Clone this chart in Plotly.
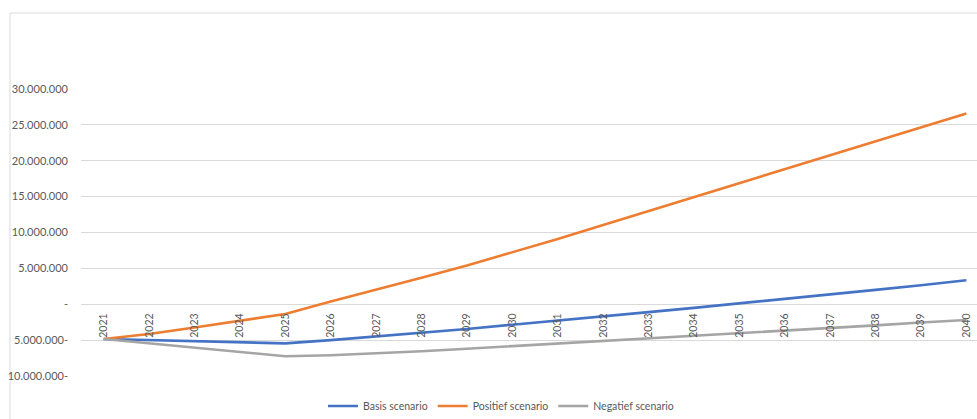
import plotly.graph_objects as go

years = ["2021", "2022", "2023", "2024", "2025", "2026", "2027", "2028", "2029", "2030",
         "2031", "2032", "2033", "2034", "2035", "2036", "2037", "2038", "2039", "2040"]

basis = [-4850000, -5000000, -5150000, -5300000, -5450000, -5000000, -4500000, -4000000,
         -3450000, -2850000, -2300000, -1700000, -1100000, -500000, 100000, 700000,
         1350000, 2000000, 2650000, 3350000]
positief = [-4850000, -4150000, -3250000, -2300000, -1350000, 400000, 2000000, 3700000,
            5400000, 7200000, 9100000, 11050000, 13000000, 14900000, 16850000, 18800000,
            20750000, 22700000, 24650000, 26600000]
negatief = [-4850000, -5450000, -6050000, -6650000, -7250000, -7100000, -6850000, -6550000,
            -6200000, -5850000, -5500000, -5150000, -4800000, -4400000, -4050000, -3700000,
            -3300000, -2950000, -2550000, -2200000]

series_names = ["Basis scenario", "Positief scenario", "Negatief scenario"]
series_colors = ["#4472C4", "#ED7D31", "#A5A5A5"]

y_tickvals = [-10000000, -5000000, 0, 5000000, 10000000, 15000000, 20000000, 25000000, 30000000]
y_ticktext = ["10.000.000-", "5.000.000-", "-", "5.000.000", "10.000.000", "15.000.000",
              "20.000.000", "25.000.000", "30.000.000"]

W, H = 977, 419
ML, MR, MT, MB = 81, 0, 89, 43
FONT = "Lato, 'Open Sans', sans-serif"
TXT = "#595959"

fig = go.Figure()
for name, vals, col in zip(series_names, [basis, positief, negatief], series_colors):
    fig.add_trace(go.Scatter(x=years, y=vals, name=name, mode="lines",
                             line=dict(color=col, width=2.6)))

pw = W - ML - MR
ph = H - MT - MB
def px_x(p):
    return (p - ML) / pw
def px_y(p):
    return (H - MB - p) / ph

# outer chart frame
fig.add_shape(type="rect", xref="paper", yref="paper",
              x0=px_x(10), x1=px_x(990), y0=px_y(440), y1=px_y(13),
              line=dict(color="#D9D9D9", width=1), fillcolor="rgba(0,0,0,0)", layer="below")

fig.update_layout(
    width=W, height=H,
    margin=dict(l=ML, r=MR, t=MT, b=MB, autoexpand=False),
    paper_bgcolor="white", plot_bgcolor="white",
    font=dict(family=FONT, color=TXT, size=11),
    showlegend=True,
    legend=dict(orientation="h", x=501 / W, xref="container", xanchor="center",
                y=1 - 406 / H, yref="container", yanchor="middle",
                font=dict(size=10.5, color=TXT), itemwidth=30, tracegroupgap=0),
    xaxis=dict(type="category", range=[-0.5, 19.234], showgrid=False, zeroline=False,
               showline=False, anchor="free", position=0.25, tickangle=-90,
               ticks="", tickfont=dict(size=10.5, color=TXT), ticklabelstandoff=6),
    yaxis=dict(range=[-10000000, 30000000], tickvals=y_tickvals, ticktext=y_ticktext,
               showgrid=True, gridcolor="#D9D9D9", gridwidth=1, zeroline=False,
               showline=False, ticks="", tickfont=dict(size=11, color=TXT),
               ticklabelstandoff=12),
)

fig.write_html("out.html")
